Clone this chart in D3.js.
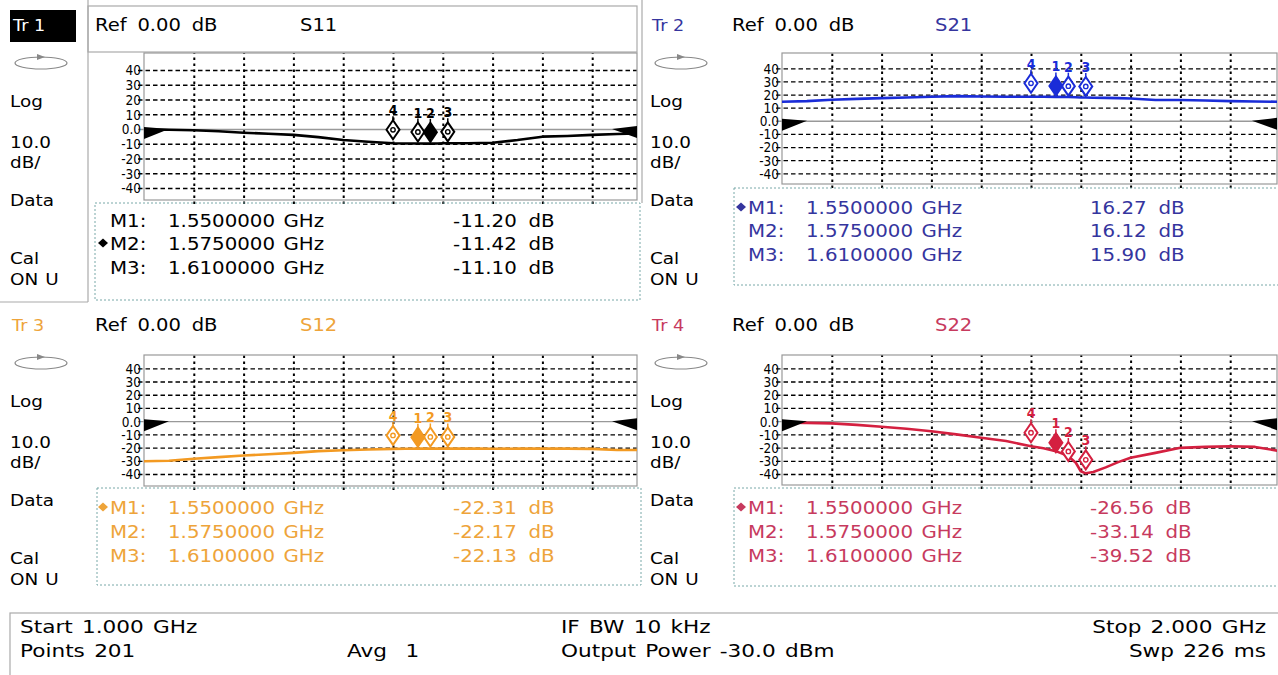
<!DOCTYPE html>
<html>
<head>
<meta charset="utf-8">
<script src="https://cdn.jsdelivr.net/npm/d3@7"></script>
<style>
  html, body { margin: 0; padding: 0; background: #fff; }
  svg { display: block; font-family: "DejaVu Sans", Verdana, sans-serif; }
</style>
</head>
<body>
<svg id="vna" width="1278" height="675"></svg>
<script>
// sweep points
const freqGHz = [1.00, 1.05, 1.10, 1.15, 1.20, 1.25, 1.30, 1.35, 1.40, 1.45, 1.50, 1.525, 1.55, 1.575,
  1.59, 1.60, 1.61, 1.625, 1.65, 1.675, 1.70, 1.75, 1.80, 1.85, 1.90, 1.95, 2.00];
const s11dB = [-0.5, -0.5, -0.8, -1.5, -2.5, -3.2, -4.0, -5.5, -7.5, -8.6, -9.7, -9.8, -9.8, -9.9,
  -9.8, -9.7, -9.7, -9.7, -9.7, -9.5, -9.3, -7.5, -5.2, -4.7, -4.0, -3.4, -2.9];
const s21dB = [14.5, 15.0, 16.0, 16.7, 17.3, 17.8, 18.3, 18.8, 18.5, 18.3, 18.3, 18.3, 18.2, 18.1,
  18.0, 17.8, 17.8, 17.6, 17.5, 17.3, 17.0, 15.8, 15.8, 15.5, 15.0, 14.7, 14.5];
const s12dB = [-30.3, -30.0, -28.5, -27.2, -26.0, -25.0, -24.0, -22.7, -22.0, -21.5, -21.0, -20.9, -20.8, -20.8,
  -20.8, -20.8, -20.8, -20.8, -20.8, -20.8, -20.9, -20.8, -20.8, -20.8, -21.0, -21.8, -21.8];
const s22dB = [-1.2, -1.3, -1.7, -2.8, -4.2, -5.8, -7.6, -10.0, -12.6, -15.0, -19.0, -20.5, -22.7, -26.5,
  -31.5, -37.9, -39.5, -38.5, -35.0, -31.0, -27.7, -24.0, -20.2, -19.5, -19.0, -19.5, -22.7];

const gridDB = [40, 30, 20, 10, 0, -10, -20, -30, -40];
const gridDBLabels = ["40", "30", "20", "10", "0.0", "-10", "-20", "-30", "-40"];
const gridGHz = [1.1, 1.2, 1.3, 1.4, 1.5, 1.6, 1.7, 1.8, 1.9];

const traceNames = ["Tr 1", "Tr 2", "Tr 3", "Tr 4"];
const paramNames = ["S11", "S21", "S12", "S22"];
const markerIds = [1, 2, 3, 4];
const markerGHz = [1.55, 1.575, 1.61, 1.5];
const markerGHzText = ["1.5500000 GHz", "1.5750000 GHz", "1.6100000 GHz"];
// M1..M3 from the readout, M4 estimated from the trace
const s11Markers = [-11.20, -11.42, -11.10, -9.7];
const s21Markers = [16.27, 16.12, 15.90, 18.3];
const s12Markers = [-22.31, -22.17, -22.13, -21.0];
const s22Markers = [-26.56, -33.14, -39.52, -19.0];
const s11Readout = ["-11.20 dB", "-11.42 dB", "-11.10 dB"];
const s21Readout = ["16.27 dB", "16.12 dB", "15.90 dB"];
const s12Readout = ["-22.31 dB", "-22.17 dB", "-22.13 dB"];
const s22Readout = ["-26.56 dB", "-33.14 dB", "-39.52 dB"];
const activeMarker = [2, 1, 1, 1];

const sidebarLabels = ["Log", "10.0", "dB/", "Data", "Cal", "ON U"];
const footerLabels = ["Start 1.000 GHz", "Points 201", "Avg  1", "IF BW 10 kHz",
  "Output Power -30.0 dBm", "Stop 2.000 GHz", "Swp 226 ms"];

const svg = d3.select("#vna");

function label(g, x, y, str, o = {}) {
  return g.append("text")
    .attr("transform", `translate(${x},${y}) scale(${o.sx ?? 1.15},1)`)
    .attr("text-anchor", o.anchor || "start")
    .attr("font-size", o.size || 17)
    .attr("font-weight", o.weight || "normal")
    .attr("fill", o.color || "#000")
    .style("word-spacing", (o.ws ?? 0) + "px")
    .style("white-space", "pre")
    .text(str);
}

const panels = [
  { data: s11dB, markers: s11Markers, readout: s11Readout, line: "#000", text: "#000",
    side: 10, dy: 0, x0: 144, x1: 642, right: 637, top: 53, bottom: 200, y40: 70, yM40: 188,
    titleX: 95, paramX: 300, table: [95, 203, 640, 300], rows: [227, 250, 274], mX: 110, fX: 168, vX: 453 },
  { data: s21dB, markers: s21Markers, readout: s21Readout, line: "#1a2cd8", text: "#35359e",
    side: 650, dy: 0, x0: 782, x1: 1280, right: 1277, top: 53, bottom: 184, y40: 68.3, yM40: 173.3,
    titleX: 732, paramX: 935, table: [734, 188, 1282, 285], rows: [214, 237, 261], mX: 748, fX: 806, vX: 1090 },
  { data: s12dB, markers: s12Markers, readout: s12Readout, line: "#f39a22", text: "#eea43a",
    side: 10, dy: 300, x0: 144, x1: 642, right: 637, top: 355, bottom: 486, y40: 368.3, yM40: 474,
    titleX: 95, paramX: 300, table: [97, 488, 641, 585], rows: [514, 538, 562], mX: 110, fX: 168, vX: 453 },
  { data: s22dB, markers: s22Markers, readout: s22Readout, line: "#d42040", text: "#c73a5e",
    side: 650, dy: 300, x0: 782, x1: 1280, right: 1277, top: 355, bottom: 485, y40: 368.3, yM40: 474,
    titleX: 732, paramX: 935, table: [734, 488, 1282, 586], rows: [514, 538, 562], mX: 748, fX: 806, vX: 1090 }
];

// frame of the active trace (Tr 1)
const frame = svg.append("g").attr("fill", "none").attr("stroke", "#aaa").attr("stroke-width", 1.2);
frame.append("rect").attr("x", 88).attr("y", 6).attr("width", 549).attr("height", 46);
frame.append("line").attr("x1", 88).attr("x2", 88).attr("y1", 0).attr("y2", 302);
frame.append("line").attr("x1", 0).attr("x2", 88).attr("y1", 302).attr("y2", 302);
frame.append("line").attr("x1", 642).attr("x2", 642).attr("y1", 0).attr("y2", 203);

panels.forEach((p, idx) => {
  const g = svg.append("g");
  const x = d3.scaleLinear().domain([1, 2]).range([p.x0, p.x1]);
  const y = d3.scaleLinear().domain([-40, 40]).range([p.yM40, p.y40]);

  // sidebar
  if (idx === 0) {
    g.append("rect").attr("x", 10).attr("y", 10).attr("width", 66).attr("height", 32).attr("fill", "#000");
    label(g, 13, 31, traceNames[idx], { size: 16, color: "#fff", sx: 1.1 });
  } else {
    label(g, p.side + 2, 31 + p.dy, traceNames[idx], { size: 16, color: p.text, sx: 1.1 });
  }
  const oval = g.append("g").attr("transform", `translate(${p.side + 31},${63 + p.dy})`);
  oval.append("ellipse").attr("rx", 26).attr("ry", 6).attr("fill", "none").attr("stroke", "#888").attr("stroke-width", 1.2);
  oval.append("path").attr("d", "M-4,-9 L4,-6 L-4,-3 Z").attr("fill", "#888");
  const sideY = [107, 148, 168, 206, 264, 285];
  sidebarLabels.forEach((t, i) => label(g, p.side, sideY[i] + p.dy, t, { size: 16, sx: 1.15, ws: 1 }));

  // title line
  label(g, p.titleX, 31 + p.dy, "Ref 0.00 dB", { size: 17, sx: 1.15, ws: 4 });
  label(g, p.paramX, 31 + p.dy, paramNames[idx], { size: 17, sx: 1.15, color: p.text });

  // plot box + grid
  g.append("rect").attr("x", p.x0).attr("y", p.top).attr("width", p.right - p.x0).attr("height", p.bottom - p.top)
    .attr("fill", "#fff");

  g.append("g").attr("transform", `translate(0,${p.bottom + 4})`)
    .call(d3.axisBottom(x).tickValues(gridGHz).tickSize(-(p.bottom + 4 - p.top)).tickFormat(""))
    .call(a => a.select(".domain").remove())
    .call(a => a.selectAll(".tick line").attr("stroke", "#000").attr("stroke-width", 2).attr("stroke-dasharray", "2.5,3.5"));

  g.append("g").attr("transform", `translate(${p.x0 - 6},0)`)
    .call(d3.axisLeft(y).tickValues(gridDB).tickSize(-(p.right - p.x0 + 6)).tickPadding(-3)
      .tickFormat((d, i) => gridDBLabels[i]))
    .call(a => a.select(".domain").remove())
    .call(a => a.selectAll(".tick line")
      .attr("stroke", d => d === 0 ? "#999" : "#000")
      .attr("stroke-width", d => d === 0 ? 1.4 : 1.3)
      .attr("stroke-dasharray", d => d === 0 ? null : "4.5,3"))
    .call(a => a.selectAll(".tick text")
      .attr("font-family", "'DejaVu Sans Condensed', 'DejaVu Sans', sans-serif")
      .attr("font-size", 13.5).attr("fill", "#000").attr("dy", "0.36em"));

  g.append("rect").attr("x", p.x0).attr("y", p.top).attr("width", p.right - p.x0).attr("height", p.bottom - p.top)
    .attr("fill", "none").attr("stroke", "#999").attr("stroke-width", 1.2);

  // trace
  const clipId = `clip${idx}`;
  g.append("clipPath").attr("id", clipId).append("rect")
    .attr("x", p.x0).attr("y", p.top).attr("width", p.right - p.x0).attr("height", p.bottom - p.top);
  const line = d3.line().x((d, i) => x(freqGHz[i])).y(d => y(d));
  g.append("path").datum(p.data).attr("clip-path", `url(#${clipId})`)
    .attr("d", line).attr("fill", "none").attr("stroke", p.line).attr("stroke-width", 2.6)
    .attr("stroke-linejoin", "round");

  // reference level arrows
  const y0 = y(0);
  g.append("path").attr("d", `M${p.x0},${y0 - 2} L${p.x0 + 25},${y0} L${p.x0},${y0 + 10} Z`).attr("fill", "#000");
  g.append("path").attr("d", `M${p.right},${y0 - 3} L${p.right - 25},${y0} L${p.right},${y0 + 9} Z`).attr("fill", "#000");

  // markers
  const order = markerIds.slice().sort((a, b) => (a === activeMarker[idx]) - (b === activeMarker[idx]));
  const mk = g.selectAll("g.mk").data(order).join("g")
    .attr("class", "mk")
    .attr("transform", d => `translate(${x(markerGHz[d - 1])},${y(p.markers[d - 1]) - 4})`);
  mk.append("path").attr("d", "M0,0 L6.5,-9.5 L0,-19 L-6.5,-9.5 Z")
    .attr("fill", d => d === activeMarker[idx] ? p.line : "#fff")
    .attr("stroke", p.line).attr("stroke-width", 2);
  mk.filter(d => d !== activeMarker[idx]).append("circle").attr("cy", -9.5).attr("r", 2.2)
    .attr("fill", "#fff").attr("stroke", p.line).attr("stroke-width", 1.4);
  mk.append("line").attr("y1", -19).attr("y2", -23).attr("stroke", p.line).attr("stroke-width", 1.5);
  mk.append("text").attr("y", -24).attr("text-anchor", "middle")
    .attr("font-size", 14).attr("font-weight", "bold").attr("fill", p.line)
    .attr("font-family", "'DejaVu Sans Condensed', 'DejaVu Sans', sans-serif")
    .text(d => d);

  // marker readout
  const [tx0, ty0, tx1, ty1] = p.table;
  g.append("rect").attr("x", tx0).attr("y", ty0).attr("width", tx1 - tx0).attr("height", ty1 - ty0)
    .attr("fill", "none").attr("stroke", "#78a8a8").attr("stroke-width", 1).attr("stroke-dasharray", "2,2");
  markerGHzText.forEach((f, i) => {
    const ry = p.rows[i];
    if (activeMarker[idx] === i + 1) {
      g.append("path").attr("d", `M${p.mX - 12},${ry - 7} l5,-4.5 l5,4.5 l-5,4.5 Z`).attr("fill", p.text);
    }
    label(g, p.mX, ry, `M${i + 1}:`, { size: 18, sx: 1.1, color: p.text });
    label(g, p.fX, ry, f, { size: 18, sx: 1.1, ws: 2, color: p.text });
    label(g, p.vX, ry, p.readout[i], { size: 18, sx: 1.1, ws: 5, color: p.text });
  });
});

// footer
const foot = svg.append("g");
foot.append("rect").attr("x", 10).attr("y", 613).attr("width", 1280).attr("height", 70)
  .attr("fill", "none").attr("stroke", "#aaa").attr("stroke-width", 1.2);
const fo = { size: 18, sx: 1.2, ws: 2 };
label(foot, 20, 633, footerLabels[0], fo);
label(foot, 20, 657, footerLabels[1], fo);
label(foot, 347, 657, footerLabels[2], fo);
label(foot, 561, 633, footerLabels[3], fo);
label(foot, 561, 657, footerLabels[4], fo);
label(foot, 1266, 633, footerLabels[5], { ...fo, anchor: "end" });
label(foot, 1266, 657, footerLabels[6], { ...fo, anchor: "end" });
</script>
</body>
</html>
